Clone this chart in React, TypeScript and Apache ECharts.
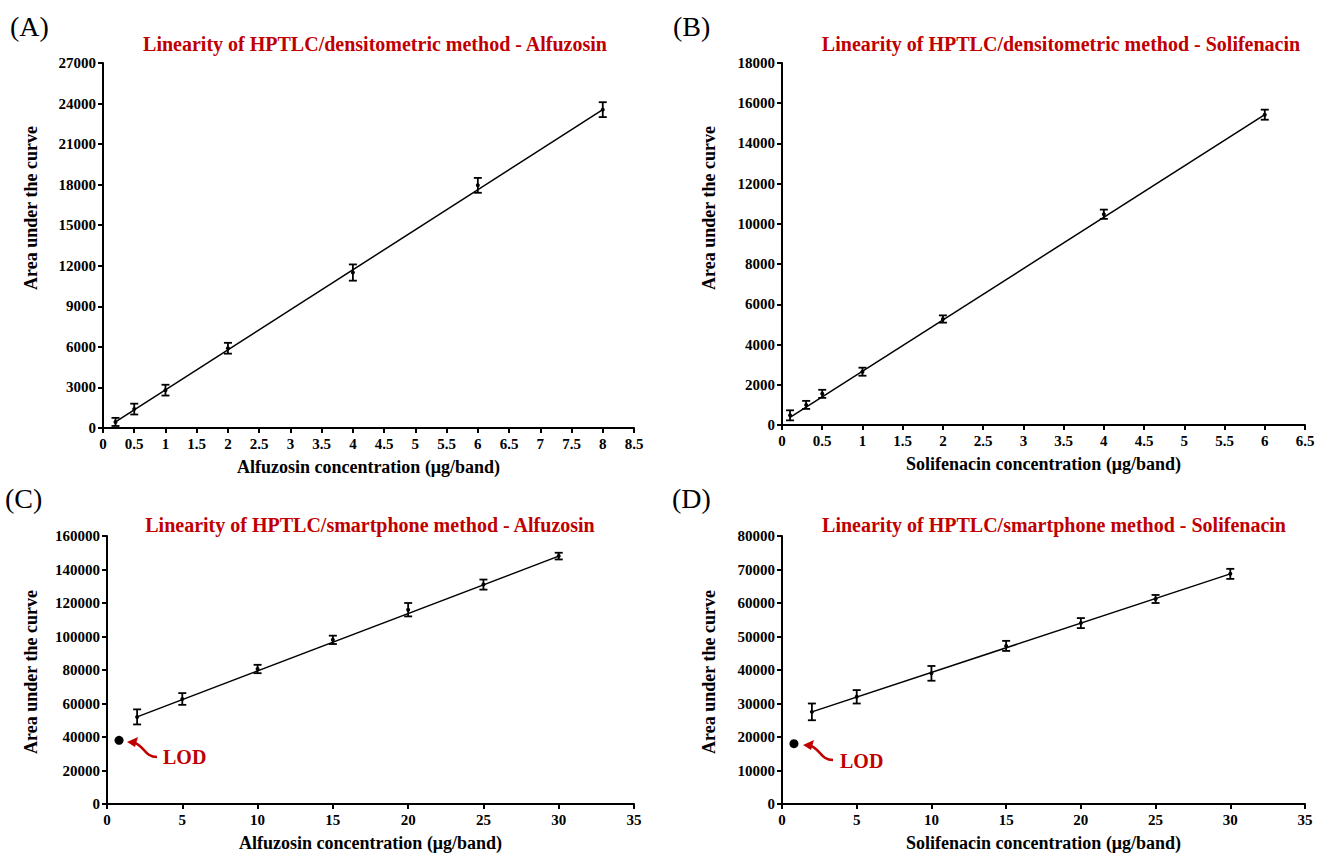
import React, { useEffect, useRef } from "react";
import * as echarts from "echarts";

// Panel A: HPTLC/densitometric - Alfuzosin
const concA = [0.2, 0.5, 1, 2, 4, 6, 8];
const areaA = [450, 1400, 2800, 5900, 11500, 17950, 23550];
const errA = [300, 400, 400, 400, 600, 550, 550];
const fitA = [[0.2, 450], [8, 23550]];
const ticksAX = { min: 0, max: 8.5, interval: 0.5 };
const ticksAY = { min: 0, max: 27000, interval: 3000 };

// Panel B: HPTLC/densitometric - Solifenacin
const concB = [0.1, 0.3, 0.5, 1, 2, 4, 6];
const areaB = [480, 1000, 1550, 2650, 5270, 10480, 15430];
const errB = [250, 200, 200, 200, 180, 230, 250];
const fitB = [[0.1, 380], [6, 15430]];
const ticksBX = { min: 0, max: 6.5, interval: 0.5 };
const ticksBY = { min: 0, max: 18000, interval: 2000 };

// Panel C: HPTLC/smartphone - Alfuzosin
const concC = [2, 5, 10, 15, 20, 25, 30];
const areaC = [52000, 62700, 80600, 98000, 116000, 131000, 148000];
const errC = [4500, 3500, 2500, 2500, 4000, 3000, 2000];
const fitC = [[2, 52000], [30, 148000]];
const lodC = [[0.8, 38000]];
const ticksCX = { min: 0, max: 35, interval: 5 };
const ticksCY = { min: 0, max: 160000, interval: 20000 };

// Panel D: HPTLC/smartphone - Solifenacin
const concD = [2, 5, 10, 15, 20, 25, 30];
const areaD = [27500, 32000, 39000, 47200, 54000, 61200, 68700];
const errD = [2500, 2000, 2200, 1500, 1500, 1200, 1500];
const fitD = [[2, 27500], [30, 68700]];
const lodD = [[0.8, 18000]];
const ticksDX = { min: 0, max: 35, interval: 5 };
const ticksDY = { min: 0, max: 80000, interval: 10000 };

const titles = [
  "Linearity of HPTLC/densitometric method - Alfuzosin",
  "Linearity of HPTLC/densitometric method - Solifenacin",
  "Linearity of HPTLC/smartphone method - Alfuzosin",
  "Linearity of HPTLC/smartphone method - Solifenacin",
];
const xNames = [
  "Alfuzosin concentration (μg/band)",
  "Solifenacin concentration (μg/band)",
  "Alfuzosin concentration (μg/band)",
  "Solifenacin concentration (μg/band)",
];
const yName = "Area under the curve";
const panelLabels = ["(A)", "(B)", "(C)", "(D)"];

const FONT = "Liberation Serif";
const RED = "#c00000";

export default function App() {
  const ref = useRef<HTMLDivElement>(null);

  useEffect(() => {
    if (!ref.current) return;
    const chart = echarts.init(ref.current, null, { renderer: "svg" });

    const grids = [
      { left: 103, top: 63, width: 531, height: 365 },
      { left: 782, top: 63, width: 523, height: 362 },
      { left: 107, top: 536, width: 527, height: 268 },
      { left: 782, top: 536, width: 523, height: 268 },
    ];
    const xt = [ticksAX, ticksBX, ticksCX, ticksDX];
    const yt = [ticksAY, ticksBY, ticksCY, ticksDY];

    const labelStyle = {
      color: "#000",
      fontFamily: FONT,
      fontWeight: "bold",
      fontSize: 15,
      formatter: (v: number) => String(v),
    };
    const axisCommon = {
      axisLine: { show: true, onZero: false, lineStyle: { color: "#000", width: 2 } },
      axisTick: { show: true, inside: false, length: 5, lineStyle: { color: "#000", width: 2 } },
      splitLine: { show: false },
    };

    const xAxis = xt.map((t, i) => ({
      type: "value",
      gridIndex: i,
      min: t.min,
      max: t.max,
      interval: t.interval,
      name: xNames[i],
      nameLocation: "middle",
      nameGap: 30,
      nameTextStyle: { color: "#000", fontFamily: FONT, fontWeight: "bold", fontSize: 18 },
      ...axisCommon,
      axisLabel: { ...labelStyle, margin: 8 },
    }));
    const yAxis = yt.map((t, i) => ({
      type: "value",
      gridIndex: i,
      min: t.min,
      max: t.max,
      interval: t.interval,
      ...axisCommon,
      axisLabel: { ...labelStyle, margin: 7 },
    }));

    const concs = [concA, concB, concC, concD];
    const areas = [areaA, areaB, areaC, areaD];
    const errs = [errA, errB, errC, errD];
    const fits = [fitA, fitB, fitC, fitD];

    const series: any[] = [];
    for (let i = 0; i < 4; i++) {
      series.push({
        type: "line",
        xAxisIndex: i,
        yAxisIndex: i,
        data: fits[i],
        symbol: "none",
        lineStyle: { color: "#000", width: 1.5 },
        silent: true,
        z: 2,
      });
      series.push({
        type: "custom",
        xAxisIndex: i,
        yAxisIndex: i,
        data: concs[i].map((c, k) => [c, areas[i][k], errs[i][k]]),
        renderItem: (params: any, api: any) => {
          const x = api.value(0);
          const y = api.value(1);
          const e = api.value(2);
          const hi = api.coord([x, y + e]);
          const lo = api.coord([x, y - e]);
          const cw = 4;
          const st = { stroke: "#000", lineWidth: 1.8 };
          return {
            type: "group",
            children: [
              { type: "line", shape: { x1: hi[0], y1: hi[1], x2: lo[0], y2: lo[1] }, style: st },
              { type: "line", shape: { x1: hi[0] - cw, y1: hi[1], x2: hi[0] + cw, y2: hi[1] }, style: st },
              { type: "line", shape: { x1: lo[0] - cw, y1: lo[1], x2: lo[0] + cw, y2: lo[1] }, style: st },
            ],
          };
        },
        z: 3,
      });
      series.push({
        type: "scatter",
        xAxisIndex: i,
        yAxisIndex: i,
        data: concs[i].map((c, k) => [c, areas[i][k]]),
        symbol: "circle",
        symbolSize: 4,
        itemStyle: { color: "#000", opacity: 1 },
        z: 4,
      });
    }
    [lodC, lodD].forEach((d, j) => {
      series.push({
        type: "scatter",
        xAxisIndex: j + 2,
        yAxisIndex: j + 2,
        data: d,
        symbol: "circle",
        symbolSize: 9,
        itemStyle: { color: "#000", opacity: 1 },
        z: 4,
      });
    });

    const titleCenters = [
      [375, 34],
      [1061, 34],
      [370, 515],
      [1054, 515],
    ];
    const title = titles.map((t, i) => ({
      text: t,
      left: titleCenters[i][0],
      top: titleCenters[i][1],
      textAlign: "center",
      padding: 0,
      textStyle: { color: RED, fontFamily: FONT, fontWeight: "bold", fontSize: 20 },
    }));

    const labelPos = [
      [10, 12],
      [673, 12],
      [5, 484],
      [672, 484],
    ];
    const graphic: any[] = labelPos.map((p, i) => ({
      type: "text",
      left: p[0],
      top: p[1],
      style: { text: panelLabels[i], font: `28px ${FONT}`, fill: "#000" },
    }));

    const yNamePos = [
      [31, 208],
      [709, 208],
      [31, 672],
      [709, 672],
    ];
    yNamePos.forEach((p) => {
      graphic.push({
        type: "text",
        x: p[0],
        y: p[1],
        rotation: Math.PI / 2,
        style: {
          text: yName,
          font: `bold 18px ${FONT}`,
          fill: "#000",
          align: "center",
          verticalAlign: "middle",
        },
      });
    });

    const lodAnn = [
      { tip: [127, 742], end: [157, 757], text: [163, 757] },
      { tip: [803, 745], end: [833, 760], text: [840, 761] },
    ];
    lodAnn.forEach((a) => {
      const [tx, ty] = a.tip;
      graphic.push({
        type: "polygon",
        shape: { points: [[tx, ty], [tx + 11, ty - 5], [tx + 8, ty + 5]] },
        style: { fill: RED },
      });
      graphic.push({
        type: "bezierCurve",
        shape: {
          x1: tx + 8,
          y1: ty + 1,
          cpx1: tx + 17,
          cpy1: ty + 4,
          cpx2: tx + 18,
          cpy2: a.end[1],
          x2: a.end[0],
          y2: a.end[1],
        },
        style: { stroke: RED, lineWidth: 2.5, fill: "none" },
      });
      graphic.push({
        type: "text",
        x: a.text[0],
        y: a.text[1],
        style: {
          text: "LOD",
          font: `bold 20px ${FONT}`,
          fill: RED,
          verticalAlign: "middle",
          align: "left",
        },
      });
    });

    chart.setOption({
      animation: false,
      backgroundColor: "#fff",
      title,
      grid: grids,
      xAxis,
      yAxis,
      series,
      graphic,
    });

    return () => chart.dispose();
  }, []);

  return (
    <div
      ref={ref}
      style={{ position: "fixed", left: 0, top: 0, width: 1319, height: 856, background: "#fff" }}
    />
  );
}
